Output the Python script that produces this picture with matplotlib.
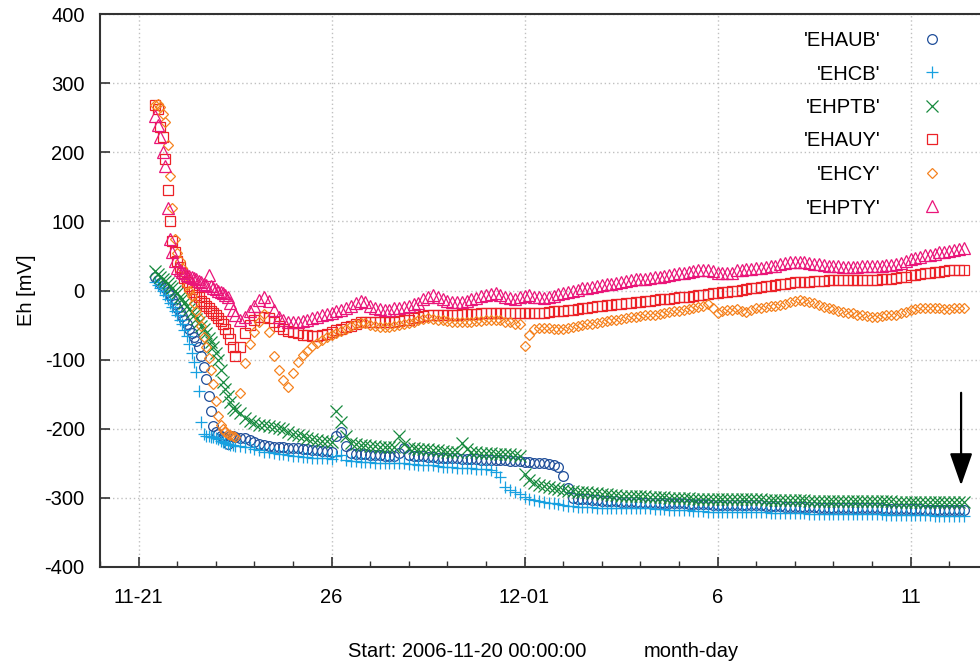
import numpy as np
import matplotlib
matplotlib.use('Agg')
import matplotlib.pyplot as plt
from matplotlib.ticker import FixedLocator, MultipleLocator

nan = np.nan

# time axis: days since 2006-11-20 00:00:00
t_early = np.arange(1.25, 3.5, 0.0625)   # 36 samples
t_late = np.arange(3.5, 22.4, 0.125)     # 152 samples

xtick_pos = [1, 6, 11, 16, 21]
xtick_labels = ['11-21', '26', '12-01', '6', '11']

series_names = ["'EHAUB'", "'EHCB'", "'EHPTB'", "'EHAUY'", "'EHCY'", "'EHPTY'"]

ehaub_early = [nan, nan, nan, 19, 15, 11, 7, 3, -2, -7, -13, -19, -25, -31, -37, -43, -48, -55,
               -61, -67, -73, -82, -95, -110, -128, -152, -175, -196, -205, -208, -210, -212, -214, -222, -210, -211]
ehaub_late = [
    -212, -213, -214, -216, -219, -222, -224, -225,
    -226, -227, -227, -228, -228, -228, -229, -229,
    -231, -231, -232, -232, -233, -210, -205, -225,
    -235, -236, -237, -237, -238, -238, -238, -239,
    -239, -239, -235, -228, -238, -239, -240, -240,
    -241, -241, -242, -242, -243, -243, -243, -244,
    -244, -244, -244, -245, -245, -245, -245, -245,
    -245, -246, -246, -247, -248, -248, -249, -249,
    -250, -251, -252, -256, -268, -285, -300, -301,
    -302, -302, -303, -303, -304, -305, -305, -305,
    -306, -306, -306, -306, -307, -307, -307, -307,
    -307, -308, -308, -308, -308, -308, -309, -309,
    -309, -309, -309, -310, -310, -310, -310, -310,
    -310, -311, -311, -311, -311, -311, -312, -312,
    -312, -312, -313, -313, -313, -313, -313, -313,
    -313, -314, -314, -314, -314, -314, -314, -314,
    -315, -315, -315, -315, -315, -315, -315, -316,
    -316, -316, -316, -316, -316, -316, -316, -317,
    -317, -317, -317, -317, -317, -318, -318, -318]

ehcb_early = [nan, nan, nan, 12, 8, 4, 0, -6, -12, -18, -24, -30, -36, -42, -49, -57, -66, -78,
              -90, -103, -118, -145, -190, -208, -210, -211, -212, -212, -213, -215, -217, -219, -221, -222, -224, -224]
ehcb_late = [
    -225, -225, -226, -227, -229, -231, -233, -234,
    -235, -236, -237, -238, -239, -240, -241, -241,
    -242, -242, -243, -243, -244, -240, -238, -245,
    -247, -247, -248, -248, -248, -249, -249, -249,
    -250, -250, -250, -250, -251, -251, -252, -252,
    -253, -253, -254, -255, -256, -256, -257, -257,
    -257, -257, -258, -258, -258, -260, -263, -270,
    -284, -289, -292, -295, -299, -301, -303, -304,
    -306, -307, -308, -309, -311, -312, -312, -313,
    -313, -313, -313, -314, -314, -314, -314, -314,
    -314, -315, -315, -315, -315, -315, -315, -316,
    -316, -316, -317, -317, -318, -318, -318, -319,
    -319, -319, -320, -320, -320, -320, -320, -320,
    -320, -321, -321, -321, -321, -321, -321, -322,
    -322, -322, -322, -322, -322, -322, -322, -323,
    -323, -323, -323, -323, -323, -323, -323, -324,
    -324, -324, -324, -324, -324, -324, -324, -325,
    -325, -325, -325, -325, -325, -325, -325, -325,
    -325, -326, -326, -326, -326, -326, -326, -326]

ehptb_early = [nan, nan, nan, 28, 24, 20, 17, 14, 11, 7, 3, 0, -4, -9, -13, -18, -22, -27,
               -31, -36, -41, -46, -51, -56, -61, -68, -75, -82, -90, -100, -115, -132, -143, -152, -162, -170]
ehptb_late = [
    -173, -177, -185, -189, -192, -194, -195, -196,
    -197, -199, -201, -204, -207, -209, -211, -213,
    -215, -216, -217, -218, -219, -175, -190, -210,
    -221, -222, -223, -224, -225, -225, -226, -226,
    -227, -227, -210, -222, -228, -228, -229, -229,
    -230, -231, -231, -232, -233, -233, -234, -221,
    -230, -234, -234, -235, -235, -235, -236, -236,
    -237, -237, -238, -240, -265, -274, -278, -281,
    -283, -284, -286, -287, -289, -290, -290, -291,
    -292, -292, -293, -293, -295, -295, -296, -296,
    -297, -297, -297, -298, -298, -298, -299, -299,
    -299, -299, -300, -300, -300, -300, -300, -301,
    -301, -301, -301, -301, -301, -301, -302, -302,
    -302, -302, -302, -302, -302, -302, -303, -303,
    -303, -303, -303, -303, -303, -303, -303, -304,
    -304, -304, -304, -304, -304, -304, -304, -305,
    -305, -305, -305, -305, -305, -305, -305, -305,
    -305, -306, -306, -306, -306, -306, -306, -306,
    -306, -306, -306, -306, -306, -306, -306, -306]

ehauy_early = [nan, nan, nan, 268, 262, 236, 222, 190, 145, 100, 72, 55, 42, 34, 25, 18, 12, 6,
               2, -2, -6, -10, -15, -18, -22, -26, -30, -33, -36, -40, -44, -48, -55, -62, -70, -82]
ehauy_late = [
    -95, -82, -62, -50, -42, -39, -38, -40,
    -46, -51, -55, -58, -60, -62, -64, -65,
    -66, -66, -65, -63, -60, -57, -55, -53,
    -51, -49, -46, -45, -45, -46, -46, -46,
    -46, -45, -44, -43, -42, -40, -39, -37,
    -36, -36, -36, -36, -35, -35, -35, -34,
    -34, -34, -34, -33, -33, -33, -33, -33,
    -33, -33, -33, -33, -33, -33, -33, -33,
    -32, -31, -30, -30, -29, -28, -28, -27,
    -26, -25, -24, -23, -22, -21, -21, -20,
    -19, -18, -18, -17, -16, -15, -15, -14,
    -13, -12, -12, -11, -10, -9, -9, -8,
    -7, -6, -5, -4, -3, -2, -2, -1,
    0, 1, 2, 3, 4, 5, 6, 7,
    8, 9, 10, 11, 12, 12, 13, 13,
    14, 14, 14, 15, 15, 15, 15, 15,
    15, 15, 15, 15, 15, 15, 16, 16,
    17, 18, 19, 20, 22, 23, 24, 25,
    26, 27, 27, 28, 29, 29, 30, 30]

ehcy_early = [nan, nan, nan, 268, 270, 265, 255, 244, 210, 165, 120, 75, 54, 42, 32, 20, 8, 0,
              -8, -18, -30, -40, -52, -67, -82, -98, -115, -135, -160, -182, -195, -200, -204, -207, -209, -211]
ehcy_late = [
    -212, -149, -105, -78, -60, -45, -34, -60,
    -95, -115, -130, -139, -120, -103, -93, -87,
    -80, -76, -72, -67, -64, -61, -58, -55,
    -52, -49, -47, -47, -50, -52, -53, -53,
    -53, -52, -50, -48, -47, -45, -43, -41,
    -40, -41, -42, -43, -44, -45, -45, -45,
    -45, -45, -44, -44, -43, -43, -43, -43,
    -45, -46, -48, -49, -80, -64, -55, -54,
    -54, -54, -55, -55, -55, -54, -53, -52,
    -50, -49, -48, -47, -45, -44, -43, -42,
    -41, -40, -39, -38, -37, -36, -35, -35,
    -34, -33, -31, -30, -29, -28, -27, -26,
    -24, -22, -20, -25, -32, -30, -28, -28,
    -27, -29, -31, -28, -26, -25, -24, -23,
    -22, -21, -19, -17, -15, -14, -15, -17,
    -18, -21, -24, -26, -27, -29, -31, -32,
    -33, -35, -36, -37, -38, -38, -37, -36,
    -36, -35, -33, -31, -28, -27, -26, -25,
    -25, -25, -26, -27, -27, -26, -26, -26]

ehpty_early = [nan, nan, nan, 252, 240, 222, 200, 180, 120, 75, 55, 42, 32, 29, 27, 25, 23, 21,
               20, 18, 16, 14, 12, 10, 8, 22, 6, 4, 2, 0, -2, -4, -6, -10, -18, -28]
ehpty_late = [
    -35, -43, -38, -30, -22, -14, -9, -15,
    -28, -38, -43, -45, -45, -45, -44, -43,
    -40, -38, -36, -34, -32, -30, -28, -25,
    -22, -18, -15, -17, -22, -25, -27, -28,
    -28, -26, -25, -24, -23, -20, -18, -13,
    -9, -7, -10, -13, -15, -16, -16, -16,
    -15, -13, -11, -8, -6, -5, -4, -6,
    -9, -11, -12, -10, -8, -6, -9, -10,
    -11, -10, -8, -5, -3, -2, 0, 1,
    3, 4, 5, 6, 8, 9, 10, 11,
    13, 14, 15, 16, 17, 17, 18, 19,
    20, 21, 22, 24, 25, 26, 27, 28,
    29, 30, 30, 28, 26, 25, 26, 26,
    29, 30, 31, 31, 32, 33, 34, 35,
    36, 38, 40, 41, 41, 41, 41, 40,
    39, 38, 37, 36, 35, 35, 34, 34,
    34, 34, 35, 35, 36, 36, 36, 37,
    37, 38, 40, 42, 45, 47, 49, 51,
    52, 53, 55, 56, 57, 58, 60, 61]

arrow_x = 22.31
arrow_from = -148
arrow_to = -282

plt.rcParams['font.family'] = ['Liberation Sans', 'DejaVu Sans']
plt.rcParams['axes.unicode_minus'] = False

W, H = 980, 663
fig = plt.figure(figsize=(W / 100, H / 100), dpi=100)
ax = fig.add_axes([100 / W, (H - 567) / H, 880 / W, (567 - 14) / H])

t = np.concatenate([t_early, t_late])
data = [
    (ehaub_early, ehaub_late, 'o', '#1f4e9a', 7.0),
    (ehcb_early, ehcb_late, '+', '#17a0e0', 8.5),
    (ehptb_early, ehptb_late, 'x', '#178a3e', 8.0),
    (ehauy_early, ehauy_late, 's', '#ec2127', 7.2),
    (ehcy_early, ehcy_late, 'D', '#f5821f', 5.5),
    (ehpty_early, ehpty_late, '^', '#ea1579', 8.5),
]
for name, (e, l, m, c, ms) in zip(series_names, data):
    v = np.concatenate([np.array(e, dtype=float), np.array(l, dtype=float)])
    ax.plot(t, v, linestyle='none', marker=m, ms=ms, mfc='none', mec=c,
            mew=0.9, label=name)

ax.set_xlim(0, 22.8)
ax.set_ylim(-400, 400)
ax.xaxis.set_major_locator(FixedLocator(xtick_pos))
ax.set_xticklabels(xtick_labels)
ax.xaxis.set_minor_locator(MultipleLocator(1))
ax.yaxis.set_major_locator(MultipleLocator(100))

ax.tick_params(axis='both', which='major', direction='in', length=7, width=1.2,
               colors='#333333', labelcolor='black', labelsize=14.5)
ax.tick_params(axis='x', which='major', pad=15)
ax.tick_params(axis='y', which='major', pad=11)
ax.tick_params(axis='x', which='minor', direction='in', length=4, width=1.0, colors='#333333')

ax.grid(True, which='major', linestyle=(0, (1, 2)), color='#c0c0c0', linewidth=1.0)
for s in ['left', 'bottom', 'top']:
    ax.spines[s].set_color('#333333')
    ax.spines[s].set_linewidth(1.5)
ax.spines['right'].set_visible(False)

ax.annotate('', xy=(arrow_x, arrow_to), xytext=(arrow_x, arrow_from),
            arrowprops=dict(arrowstyle='-|>,head_width=0.35,head_length=1.0',
                            color='black', lw=1.6, mutation_scale=20,
                            shrinkA=0, shrinkB=0))

leg = ax.legend(loc='upper right', bbox_to_anchor=(952 / W, 1 - 31 / H),
                bbox_transform=fig.transFigure, frameon=False, markerfirst=False,
                fontsize=14.5, handlelength=2.0, handletextpad=1.55, labelspacing=0.72,
                borderpad=0, borderaxespad=0)

fig.text(27 / W, 1 - 290 / H, 'Eh [mV]', rotation=90, ha='center', va='center', fontsize=14.5)
fig.text(348 / W, 1 - 657 / H, 'Start: 2006-11-20 00:00:00', ha='left', va='baseline', fontsize=14.5)
fig.text(644 / W, 1 - 657 / H, 'month-day', ha='left', va='baseline', fontsize=14.5)

fig.savefig('out.png', dpi=100)
